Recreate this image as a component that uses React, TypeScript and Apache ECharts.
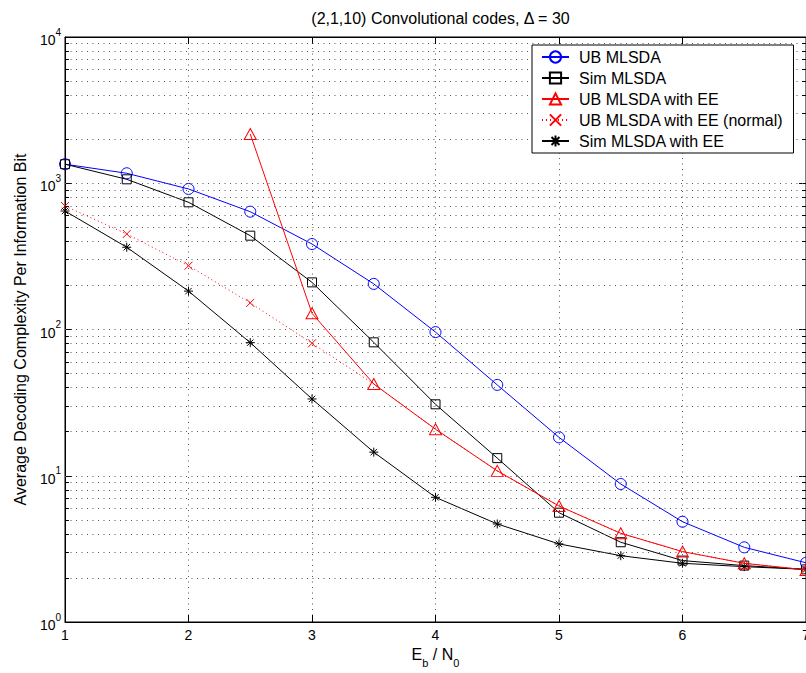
import React, { useEffect, useRef } from 'react';
import * as echarts from 'echarts';

// ---- data ----
const xValues = [1, 1.5, 2, 2.5, 3, 3.5, 4, 4.5, 5, 5.5, 6, 6.5, 7];
const ubMlsda = [1350, 1170, 914, 639, 384, 205, 96, 41.8, 18.3, 8.78, 4.85, 3.24, 2.54];
const simMlsda = [1350, 1064, 741, 438, 210, 81.7, 30.8, 13.2, 5.59, 3.51, 2.63, 2.43, 2.29];
const ubEeX = [2.5, 3, 3.5, 4, 4.5, 5, 5.5, 6, 6.5, 7];
const ubEe = [2170, 129, 42.4, 20.8, 10.8, 6.21, 4.04, 3.03, 2.52, 2.27];
const ubEeNormalX = [1, 1.5, 2, 2.5, 3, 3.5, 4, 4.5, 5, 5.5, 6, 6.5, 7];
const ubEeNormal = [699, 450, 273, 152, 80.5, 42.4, 20.8, 10.8, 6.21, 4.04, 3.03, 2.52, 2.27];
const ubEeNormalMarkerUntil = 3;
const simEe = [646, 365, 183, 81.3, 33.5, 14.5, 7.12, 4.68, 3.42, 2.84, 2.52, 2.39, 2.29];

const seriesNames = [
  'UB MLSDA',
  'Sim MLSDA',
  'UB MLSDA with EE',
  'UB MLSDA with EE (normal)',
  'Sim MLSDA with EE',
];
const titleText = '(2,1,10) Convolutional codes, \u0394 = 30';
const yName = 'Average Decoding Complexity Per Information Bit';

const FONT = "'Liberation Sans', Arial, Helvetica, sans-serif";

const X_SYMBOL = 'path://M0,0L10,10M10,0L0,10';
const STAR_SYMBOL = 'path://M5,0L5,10M0,5L10,5M1.46,1.46L8.54,8.54M8.54,1.46L1.46,8.54';

function pairs(xs: number[], ys: number[]) {
  return xs.map((x, i) => [x, ys[i]]);
}

export default function App() {
  const ref = useRef<HTMLDivElement>(null);
  useEffect(() => {
    if (!ref.current) return;
    const chart = echarts.init(ref.current, undefined, { renderer: 'svg' });

    // grid lines (dotted) at 1..9 x decade, and minor ticks
    const gridLines: any[] = [];
    const minorTicks: any[] = [];
    for (let d = 0; d < 4; d++) {
      for (let k = 1; k <= 9; k++) {
        const v = k * Math.pow(10, d);
        if (v > 1) gridLines.push({ yAxis: v });
        if (k >= 2) {
          minorTicks.push([{ coord: [1, v] }, { coord: [1.032, v] }]);
          minorTicks.push([{ coord: [7, v] }, { coord: [6.968, v] }]);
        }
      }
    }

    const mk = (color: string) => ({
      color: 'transparent',
      borderColor: color,
      borderWidth: 1,
    });

    const option: any = {
      animation: false,
      backgroundColor: '#fff',
      textStyle: { fontFamily: FONT },
      title: {
        text: titleText,
        left: 435.5,
        textAlign: 'center',
        top: 5,
        textStyle: { fontSize: 16, fontWeight: 'normal', color: '#000', fontFamily: FONT },
      },
      grid: {
        left: 65,
        right: 0,
        top: 37,
        bottom: 51,
        containLabel: false,
        outerBoundsMode: 'none',
        show: true,
        borderColor: '#000',
        borderWidth: 1,
        backgroundColor: 'transparent',
      },
      legend: {
        orient: 'vertical',
        left: 532,
        top: 45,
        data: seriesNames,
        itemWidth: 27,
        itemHeight: 14,
        itemGap: 5,
        padding: [4, 10, 4, 9],
        backgroundColor: '#fff',
        borderColor: '#000',
        borderWidth: 1,
        borderRadius: 0,
        selectedMode: false,
        textStyle: { fontSize: 16, lineHeight: 14, color: '#000', fontFamily: FONT, padding: [0, 0, 0, 5] },
        z: 10,
      },
      xAxis: [
        {
          type: 'value',
          min: 1,
          max: 7,
          interval: 1,
          name: '{n|E}{s|b}{n| / N}{s|0}',
          nameLocation: 'middle',
          nameGap: 22,
          nameTextStyle: {
            rich: {
              n: { fontSize: 16, fontFamily: FONT, color: '#000', lineHeight: 22, verticalAlign: 'top' },
              s: { fontSize: 11, fontFamily: FONT, color: '#000', lineHeight: 12, verticalAlign: 'bottom' },
            },
          },
          axisLine: { show: true, lineStyle: { color: '#000', width: 1 } },
          axisTick: { show: true, inside: true, length: 7, lineStyle: { color: '#000' } },
          axisLabel: { fontSize: 14, color: '#000', margin: 6, fontFamily: FONT },
          splitLine: { show: true, lineStyle: { color: '#555', type: [1, 4.5], width: 1 } },
        },
        {
          type: 'value',
          position: 'top',
          min: 1,
          max: 7,
          interval: 1,
          axisLine: { show: true, lineStyle: { color: '#000', width: 1 } },
          axisTick: { show: true, inside: true, length: 7, lineStyle: { color: '#000' } },
          axisLabel: { show: false },
          splitLine: { show: false },
        },
      ],
      yAxis: [
        {
          type: 'log',
          logBase: 10,
          min: 1,
          max: 10000,
          name: yName,
          nameLocation: 'middle',
          nameGap: 37,
          nameTextStyle: { fontSize: 16, color: '#000', fontFamily: FONT },
          axisLine: { show: true, lineStyle: { color: '#000', width: 1 } },
          axisTick: { show: true, inside: true, length: 7, lineStyle: { color: '#000' } },
          axisLabel: {
            margin: 4,
            formatter: (v: number) => `{b|10}{s|${Math.round(Math.log10(v))}}`,
            rich: {
              b: { fontSize: 14, fontFamily: FONT, color: '#000', lineHeight: 20, verticalAlign: 'bottom' },
              s: { fontSize: 10, fontFamily: FONT, color: '#000', lineHeight: 10, verticalAlign: 'top' },
            },
          },
          splitLine: { show: false },
        },
        {
          type: 'log',
          logBase: 10,
          min: 1,
          max: 10000,
          position: 'right',
          axisLine: { show: true, lineStyle: { color: '#000', width: 1 } },
          axisTick: { show: true, inside: true, length: 7, lineStyle: { color: '#000' } },
          axisLabel: { show: false },
          splitLine: { show: false },
        },
      ],
      series: [
        {
          name: '__grid',
          type: 'line',
          data: [[1, 1]],
          symbol: 'none',
          lineStyle: { opacity: 0 },
          silent: true,
          z: 1,
          markLine: {
            silent: true,
            symbol: ['none', 'none'],
            label: { show: false },
            lineStyle: { color: '#555', type: [1, 4.5], width: 1 },
            data: gridLines,
            animation: false,
          },
        },
        {
          name: '__ticks',
          type: 'line',
          data: [[1, 1]],
          symbol: 'none',
          lineStyle: { opacity: 0 },
          silent: true,
          z: 1,
          markLine: {
            silent: true,
            symbol: ['none', 'none'],
            label: { show: false },
            lineStyle: { color: '#000', type: 'solid', width: 1 },
            data: minorTicks,
            animation: false,
          },
        },
        {
          name: seriesNames[0],
          type: 'line',
          data: pairs(xValues, ubMlsda),
          symbol: 'circle',
          symbolSize: 11,
          showAllSymbol: true,
          lineStyle: { color: '#0000ff', width: 1 },
          itemStyle: mk('#0000ff'),
          z: 3,
        },
        {
          name: seriesNames[1],
          type: 'line',
          data: pairs(xValues, simMlsda),
          symbol: 'rect',
          symbolSize: 9,
          showAllSymbol: true,
          lineStyle: { color: '#000', width: 1 },
          itemStyle: mk('#000'),
          z: 3,
        },
        {
          name: seriesNames[2],
          type: 'line',
          data: pairs(ubEeX, ubEe),
          symbol: 'triangle',
          symbolSize: [12, 11],
          showAllSymbol: true,
          lineStyle: { color: '#ff0000', width: 1 },
          itemStyle: mk('#ff0000'),
          z: 4,
        },
        {
          name: seriesNames[3],
          type: 'line',
          data: ubEeNormalX.map((x, i) =>
            x <= ubEeNormalMarkerUntil
              ? { value: [x, ubEeNormal[i]] }
              : { value: [x, ubEeNormal[i]], symbol: 'none' }
          ),
          symbol: X_SYMBOL,
          symbolSize: 8,
          showAllSymbol: true,
          lineStyle: { color: '#ff0000', width: 1, type: [1, 3] },
          itemStyle: mk('#ff0000'),
          z: 3,
        },
        {
          name: seriesNames[4],
          type: 'line',
          data: pairs(xValues, simEe),
          symbol: STAR_SYMBOL,
          symbolSize: 9,
          showAllSymbol: true,
          lineStyle: { color: '#000', width: 1 },
          itemStyle: mk('#000'),
          z: 3,
        },
      ],
    };

    chart.setOption(option);
    return () => chart.dispose();
  }, []);

  return (
    <div
      ref={ref}
      style={{ position: 'fixed', left: 0, top: 0, width: 806, height: 673, background: '#fff' }}
    />
  );
}
